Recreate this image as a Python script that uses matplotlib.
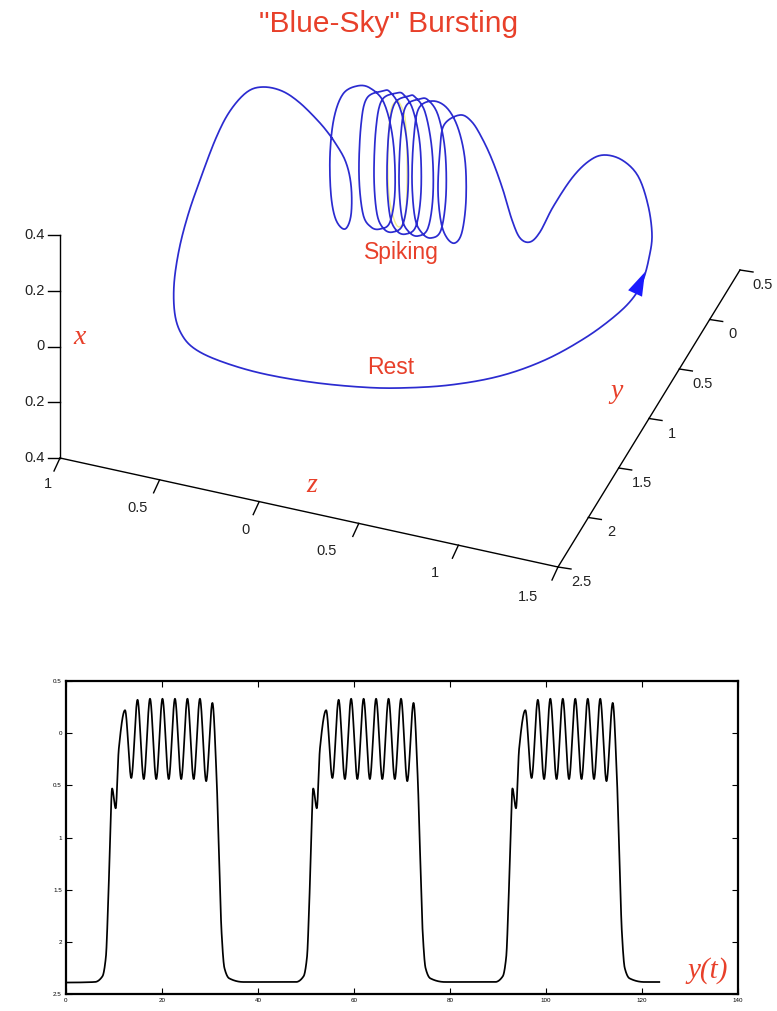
import numpy as np
import matplotlib
matplotlib.use("Agg")
import matplotlib.pyplot as plt

# ---------------- data ----------------
# Projected trajectory of the blue-sky orbit (pixel space of the upper panel)
orbit_x = [332, 320, 300, 282, 263, 247, 230, 216, 200, 188, 179, 174, 175, 182, 195, 220, 260, 310, 360, 400,
           450, 500, 545, 585, 615, 633, 643, 649, 652, 648, 638, 622, 604, 589, 572, 553, 540, 530, 520, 512,
           503, 493, 483, 472,
           460, 444, 440, 438, 441, 447, 455, 462, 466, 465, 458, 447,
           433, 419, 414, 412, 415, 422, 431, 441, 446, 445, 438, 428,
           420, 406, 401, 399, 402, 409, 418, 428, 433, 432, 425, 415,
           409, 395, 389, 387, 390, 397, 406, 416, 421, 420, 413, 404,
           397, 382, 376, 374, 377, 384, 393, 403, 408, 407, 400, 390,
           383, 367, 361, 359, 363, 371, 380, 390, 395, 393, 384, 370,
           357, 343, 334, 330, 331, 336, 345, 351, 351, 345, 332]
orbit_y = [138, 123, 103, 91, 87, 92, 111, 138, 180, 215, 250, 285, 315, 335, 349, 361, 373, 382, 387, 388,
           385, 376, 360, 338, 316, 298, 280, 258, 235, 205, 176, 160, 155, 161, 178, 207, 232, 242, 238, 220,
           190, 162, 140, 122,
           115, 125, 150, 190, 222, 238, 243, 232, 200, 160, 128, 108,
           101, 108, 135, 180, 218, 233, 238, 230, 195, 150, 115, 100,
           99, 106, 133, 180, 218, 232, 236, 228, 195, 150, 112, 97,
           96, 103, 130, 178, 216, 231, 234, 226, 192, 145, 110, 95,
           93, 100, 128, 176, 214, 229, 232, 224, 190, 143, 108, 92,
           91, 98, 125, 175, 214, 227, 229, 222, 190, 140, 103, 88,
           86, 94, 118, 155, 195, 220, 229, 215, 185, 160, 138]

# faint yellow spiking orbit inside the coil
cycle_x = [398, 391, 388, 389, 395, 401, 406, 407, 405, 398]
cycle_y = [100, 110, 150, 195, 222, 226, 210, 160, 118, 100]

# pseudo-3D axes
x_tick_labels = ["0.4", "0.2", "0", "0.2", "0.4"]
z_tick_labels = ["1", "0.5", "0", "0.5", "1", "1.5"]
y_tick_labels = ["2.5", "2", "1.5", "1", "0.5", "0", "0.5"]
x_axis_ends = [(60, 235), (60, 458)]
z_axis_ends = [(60, 458), (558, 567)]
y_axis_ends = [(558, 567), (740, 270)]
z_label_pos = [(48, 484), (138, 508), (246, 530), (327, 551), (435, 573), (528, 597)]

# time series y(t)
ts_t = [0, 6.0, 7.6, 8.3, 8.8, 9.2, 9.6, 10.35, 11.0, 12.3, 13.6, 14.9, 16.2, 17.5, 18.8, 20.1, 21.4, 22.7,
        24.0, 25.3, 26.6, 27.9, 29.2, 30.5, 31.35, 31.9, 32.4, 33.0, 34.0, 37.0,
        47.9, 49.5, 50.2, 50.7, 51.1, 51.5, 52.25, 52.9, 54.2, 55.5, 56.8, 58.1, 59.4, 60.7, 62.0, 63.3, 64.6,
        65.9, 67.2, 68.5, 69.8, 71.1, 72.4, 73.25, 73.8, 74.3, 74.9, 75.9, 79.0,
        89.4, 91.0, 91.7, 92.2, 92.6, 93.0, 93.75, 94.4, 95.7, 97.0, 98.3, 99.6, 100.9, 102.2, 103.5, 104.8,
        106.1, 107.4, 108.7, 110.0, 111.3, 112.6, 113.9, 114.75, 115.3, 115.8, 116.4, 117.4, 120.5, 123.6]
ts_v = [2.39, 2.385, 2.33, 2.15, 1.6, 1.0, 0.53, 0.72, 0.15, -0.22, 0.43, -0.32, 0.44, -0.33, 0.44, -0.33,
        0.44, -0.33, 0.44, -0.33, 0.44, -0.33, 0.46, -0.29, 0.4, 1.2, 1.9, 2.25, 2.35, 2.385,
        2.385, 2.33, 2.15, 1.6, 1.0, 0.53, 0.72, 0.15, -0.22, 0.43, -0.32, 0.44, -0.33, 0.44, -0.33, 0.44,
        -0.33, 0.44, -0.33, 0.44, -0.33, 0.46, -0.29, 0.4, 1.2, 1.9, 2.25, 2.35, 2.385,
        2.385, 2.33, 2.15, 1.6, 1.0, 0.53, 0.72, 0.15, -0.22, 0.43, -0.32, 0.44, -0.33, 0.44, -0.33, 0.44,
        -0.33, 0.44, -0.33, 0.44, -0.33, 0.46, -0.29, 0.4, 1.2, 1.9, 2.25, 2.35, 2.385, 2.385]
ts_xticks = [0, 20, 40, 60, 80, 100, 120, 140]
ts_yticks = [-0.5, 0, 0.5, 1, 1.5, 2, 2.5]
ts_ytick_labels = ["0.5", "0", "0.5", "1", "1.5", "2", "2.5"]

RED = "#e8402a"
BLUE = "#2b2bd0"
SANS = ["Liberation Sans", "DejaVu Sans"]
SERIF = ["Liberation Serif", "DejaVu Serif"]


def catmull(px, py, n=10):
    P = np.column_stack([px, py]).astype(float)
    P = np.vstack([P[0], P, P[-1]])
    out = []
    for i in range(1, len(P) - 2):
        p0, p1, p2, p3 = P[i - 1], P[i], P[i + 1], P[i + 2]
        for t in np.linspace(0, 1, n, endpoint=False):
            t2, t3 = t * t, t * t * t
            out.append(0.5 * ((2 * p1) + (-p0 + p2) * t + (2 * p0 - 5 * p1 + 4 * p2 - p3) * t2
                              + (-p0 + 3 * p1 - 3 * p2 + p3) * t3))
    out.append(P[-2])
    out = np.array(out)
    return out[:, 0], out[:, 1]


def pchip(x, y, xs):
    x = np.asarray(x, float); y = np.asarray(y, float)
    h = np.diff(x); d = np.diff(y) / h
    m = np.zeros_like(y)
    for k in range(1, len(x) - 1):
        if d[k - 1] * d[k] > 0:
            w1 = 2 * h[k] + h[k - 1]; w2 = h[k] + 2 * h[k - 1]
            m[k] = (w1 + w2) / (w1 / d[k - 1] + w2 / d[k])
    idx = np.clip(np.searchsorted(x, xs) - 1, 0, len(x) - 2)
    hh = h[idx]; s = (xs - x[idx]) / hh
    h00 = 2 * s**3 - 3 * s**2 + 1; h10 = s**3 - 2 * s**2 + s
    h01 = -2 * s**3 + 3 * s**2; h11 = s**3 - s**2
    return h00 * y[idx] + h10 * hh * m[idx] + h01 * y[idx + 1] + h11 * hh * m[idx + 1]


fig = plt.figure(figsize=(7.77, 10.11), dpi=100)

# ---------------- upper panel: pseudo-3D phase portrait ----------------
ax0 = fig.add_axes([0, 0, 1, 1])
ax0.set_xlim(0, 777)
ax0.set_ylim(1011, 0)
ax0.axis("off")

fig.text(0.5, 1 - 24 / 1011, '"Blue-Sky" Bursting', color=RED, fontsize=21.5,
         family=SANS, ha="center", va="center")

cx, cy = catmull(cycle_x, cycle_y, 12)
ax0.plot(cx, cy, color="#f2ee8c", lw=1.0, zorder=2)
ox, oy = catmull(orbit_x, orbit_y, 12)
ax0.plot(ox, oy, color=BLUE, lw=1.25, zorder=3, solid_joinstyle="round")

# direction arrow on the rising right-hand branch
i_tip = orbit_x.index(643)
ax0.annotate("", xy=(orbit_x[i_tip] + 2, orbit_y[i_tip] - 8), xytext=(orbit_x[i_tip - 1], orbit_y[i_tip - 1]),
             arrowprops=dict(arrowstyle="-|>,head_length=1.7,head_width=0.55", color="#1a1aff",
                             lw=0.01, shrinkA=0, shrinkB=0), zorder=4)

ax_kw = dict(color="black", lw=1.0, zorder=1)
# x axis (vertical)
(x0, y0), (x1, y1) = x_axis_ends
ax0.plot([x0, x1], [y0, y1], **ax_kw)
for k, lab in enumerate(x_tick_labels):
    yy = y0 + (y1 - y0) * k / (len(x_tick_labels) - 1)
    ax0.plot([x0 - 12, x0], [yy, yy], **ax_kw)
    ax0.text(x0 - 15, yy, lab, ha="right", va="center", fontsize=10.5, family=SANS, color="#222222")
# z axis
(x0, y0), (x1, y1) = z_axis_ends
ax0.plot([x0, x1], [y0, y1], **ax_kw)
for k, lab in enumerate(z_tick_labels):
    f = k / (len(z_tick_labels) - 1)
    xx, yy = x0 + (x1 - x0) * f, y0 + (y1 - y0) * f
    ax0.plot([xx, xx - 6], [yy, yy + 13], **ax_kw)
    ax0.text(*z_label_pos[k], lab, ha="center", va="center", fontsize=10.5, family=SANS, color="#222222")
# y axis
(x0, y0), (x1, y1) = y_axis_ends
ax0.plot([x0, x1], [y0, y1], **ax_kw)
for k, lab in enumerate(y_tick_labels):
    f = k / (len(y_tick_labels) - 1)
    xx, yy = x0 + (x1 - x0) * f, y0 + (y1 - y0) * f
    ax0.plot([xx, xx + 13], [yy, yy + 2], **ax_kw)
    ax0.text(xx + 23, yy + 15, lab, ha="center", va="center", fontsize=10.5, family=SANS, color="#222222")

ax0.text(80, 338, "x", color=RED, fontsize=20, family=SERIF, style="italic", ha="center", va="center")
ax0.text(312, 485, "z", color=RED, fontsize=20, family=SERIF, style="italic", ha="center", va="center")
ax0.text(617, 392, "y", color=RED, fontsize=20, family=SERIF, style="italic", ha="center", va="center")
ax0.text(401, 253, "Spiking", color=RED, fontsize=16.5, family=SANS, ha="center", va="center")
ax0.text(391, 367, "Rest", color=RED, fontsize=16.5, family=SANS, ha="center", va="center")

# ---------------- lower panel: time series ----------------
W, H = 777, 1011
ax1 = fig.add_axes([66 / W, 1 - 994 / H, (738 - 66) / W, (994 - 681) / H])
tt = np.linspace(ts_t[0], ts_t[-1], 4000)
ax1.plot(tt, pchip(ts_t, ts_v, tt), color="black", lw=1.25)
ax1.set_xlim(0, 140)
ax1.set_ylim(2.5, -0.5)
ax1.set_xticks(ts_xticks)
ax1.set_xticklabels([str(v) for v in ts_xticks])
ax1.set_yticks(ts_yticks)
ax1.set_yticklabels(ts_ytick_labels)
ax1.tick_params(direction="in", length=4, width=0.8, labelsize=4.5, top=True, right=True, pad=3)
for lab in ax1.get_xticklabels() + ax1.get_yticklabels():
    lab.set_family(SANS)
for s in ax1.spines.values():
    s.set_linewidth(1.6)
ax1.text(0.955, 0.075, "y(t)", transform=ax1.transAxes, color=RED, fontsize=21, family=SERIF,
         style="italic", ha="center", va="center")

fig.savefig("out.png", dpi=100)
